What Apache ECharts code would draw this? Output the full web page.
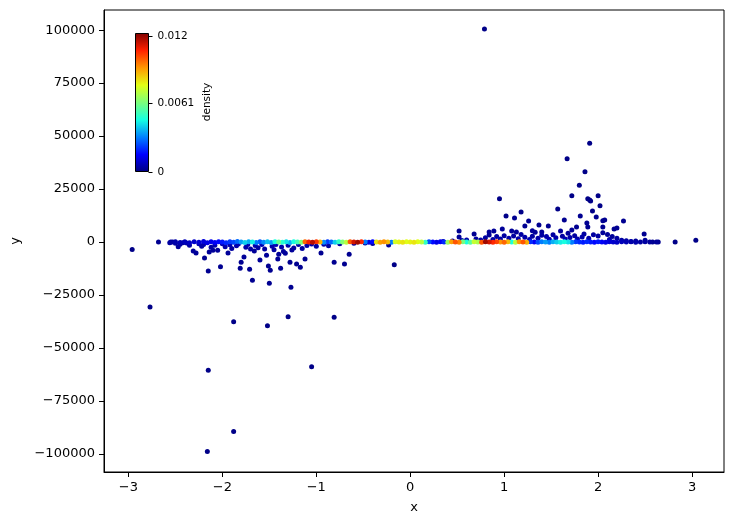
<!DOCTYPE html>
<html><head><meta charset="utf-8">
<script src="https://cdn.jsdelivr.net/npm/echarts@6/dist/echarts.min.js"></script>
<style>html,body{margin:0;padding:0;background:#fff}#c{width:734px;height:525px}</style>
</head><body><div id="c"></div><script>
const xTicks=[-3,-2,-1,0,1,2,3];
const yTicks=[-100000,-75000,-50000,-25000,0,25000,50000,75000,100000];
const densityTicks=[0,0.0061,0.012];
const densityTickLabels=['0','0.0061','0.012'];
const densityMax=0.0122;
const jetColors=['#000080','#0000ff','#0080ff','#15ffe2','#7bff7b','#e2ff15','#ff9700','#ff2100','#800000'];

// [x, y, density] along the dense band near y = 0
const bandPoints=[
[-2.55,0,0.0004],[-2.50,200,0.0005],[-2.45,-200,0.0006],[-2.40,100,0.0007],[-2.35,-300,0.0008],
[-2.30,200,0.0009],[-2.25,-100,0.0010],[-2.20,300,0.0011],[-2.16,-300,0.0012],[-2.12,100,0.0013],
[-2.08,-200,0.0014],[-2.04,200,0.0016],[-2.00,0,0.0018],[-1.96,-300,0.0020],[-1.92,200,0.0022],
[-1.88,-100,0.0024],[-1.84,300,0.0028],[-1.80,0,0.0034],[-1.76,-200,0.0040],[-1.72,200,0.0036],
[-1.68,0,0.0044],[-1.64,-200,0.0030],[-1.60,100,0.0026],[-1.56,-100,0.0032],[-1.52,200,0.0038],
[-1.48,-200,0.0034],[-1.44,100,0.0046],[-1.40,0,0.0058],[-1.36,-100,0.0048],[-1.32,200,0.0042],
[-1.28,-200,0.0036],[-1.24,100,0.0046],[-1.20,0,0.0052],[-1.16,-100,0.0062],[-1.12,100,0.0098],
[-1.08,0,0.0108],[-1.04,-100,0.0115],[-1.00,100,0.0104],[-0.96,0,0.0088],[-0.92,-100,0.0032],
[-0.88,100,0.0022],[-0.84,0,0.0028],[-0.80,-100,0.0040],[-0.76,100,0.0050],[-0.72,0,0.0062],
[-0.68,-100,0.0070],[-0.64,100,0.0100],[-0.60,0,0.0112],[-0.56,-100,0.0118],[-0.52,100,0.0106],
[-0.48,0,0.0030],[-0.44,-100,0.0012],[-0.40,100,0.0016],[-0.36,0,0.0080],[-0.32,-100,0.0090],
[-0.28,100,0.0092],[-0.24,0,0.0086],[-0.20,-100,0.0030],[-0.16,100,0.0074],[-0.12,0,0.0078],
[-0.08,-100,0.0080],[-0.04,100,0.0076],[0.00,0,0.0078],[0.04,-100,0.0080],[0.08,100,0.0076],
[0.12,0,0.0070],[0.16,-100,0.0050],[0.20,100,0.0024],[0.24,0,0.0016],[0.28,-100,0.0012],
[0.32,100,0.0014],[0.36,0,0.0020],[0.40,-100,0.0066],[0.44,100,0.0090],[0.48,0,0.0100],
[0.52,-100,0.0094],[0.56,100,0.0060],[0.60,0,0.0046],[0.64,-100,0.0056],[0.68,100,0.0072],
[0.72,0,0.0068],[0.76,-100,0.0100],[0.80,100,0.0118],[0.84,0,0.0112],[0.88,-100,0.0106],
[0.92,100,0.0102],[0.96,0,0.0092],[1.00,-100,0.0098],[1.04,100,0.0086],[1.08,0,0.0046],
[1.12,-100,0.0070],[1.16,100,0.0092],[1.20,0,0.0100],[1.24,-100,0.0088],[1.28,100,0.0020],
[1.32,0,0.0014],[1.36,-100,0.0024],[1.40,100,0.0030],[1.44,0,0.0034],[1.48,-100,0.0030],
[1.52,100,0.0036],[1.56,0,0.0040],[1.60,-100,0.0044],[1.64,100,0.0046],[1.68,0,0.0042],
[1.72,-100,0.0030],[1.76,100,0.0022],[1.80,0,0.0020],[1.84,-100,0.0018],[1.88,100,0.0020],
[1.92,0,0.0018],[1.96,-100,0.0016],[2.00,100,0.0018],[2.04,0,0.0014],[2.08,-100,0.0012],
[2.12,100,0.0010],[2.16,0,0.0009],[2.20,-100,0.0008],[2.25,100,0.0007],[2.30,0,0.0006],
[2.35,100,0.0005],[2.40,-100,0.0005],[2.45,0,0.0004],[2.50,100,0.0004],[2.55,0,0.0003],[2.62,0,0.0003]
];

// [x, y, density] sparse points below the band (negative x)
const leftTailPoints=[
[-2.96,-3500,0.0001],[-2.77,-30600,0.0001],[-2.68,0,0.0002],[-2.16,-98800,0.0001],[-2.15,-60500,0.0001],
[-1.88,-89400,0.0001],[-1.88,-37600,0.0001],[-1.52,-39500,0.0001],[-1.30,-35300,0.0001],[-1.05,-58800,0.0001],
[-0.81,-35500,0.0001],[-0.17,-10700,0.0001],
[-2.53,0,0.0003],[-2.47,-2200,0.0003],[-2.42,-300,0.0004],[-2.31,-4200,0.0003],[-2.28,-5200,0.0003],
[-2.19,-7500,0.0002],[-2.15,-13600,0.0002],[-2.14,-4700,0.0003],[-2.10,-3900,0.0003],[-2.05,-3900,0.0003],
[-2.02,-11700,0.0002],[-1.94,-5200,0.0003],[-1.81,-12400,0.0002],[-1.80,-9500,0.0002],[-1.77,-7000,0.0003],
[-1.71,-12800,0.0002],[-1.68,-18000,0.0002],[-1.66,-4200,0.0003],[-1.60,-8500,0.0003],[-1.53,-6200,0.0003],
[-1.51,-11300,0.0002],[-1.50,-19400,0.0002],[-1.49,-13300,0.0002],[-1.41,-8000,0.0003],[-1.40,-5800,0.0003],
[-1.38,-12300,0.0002],[-1.35,-4500,0.0003],[-1.33,-5300,0.0003],[-1.28,-9500,0.0002],[-1.27,-21300,0.0002],
[-1.26,-3700,0.0003],[-1.21,-10400,0.0002],[-1.17,-11900,0.0002],[-1.12,-8000,0.0002],[-0.95,-5200,0.0002],
[-0.81,-9500,0.0002],[-0.70,-10400,0.0002],[-0.65,-5700,0.0002],[-0.23,-1400,0.0003],
[-2.56,-300,0.0004],[-2.50,-600,0.0004],[-2.45,-1000,0.0004],[-2.38,-400,0.0005],[-2.35,-1500,0.0004],
[-2.25,-800,0.0005],[-2.22,-2000,0.0004],[-2.20,-1200,0.0005],[-2.12,-2500,0.0004],[-2.08,-1500,0.0005],
[-2.00,-800,0.0006],[-1.97,-2200,0.0005],[-1.92,-1300,0.0006],[-1.90,-3000,0.0004],[-1.85,-1800,0.0005],
[-1.83,-900,0.0006],[-1.75,-2400,0.0005],[-1.73,-1200,0.0006],[-1.70,-3300,0.0004],[-1.65,-1600,0.0005],
[-1.62,-2700,0.0004],[-1.58,-1100,0.0006],[-1.55,-3300,0.0004],[-1.47,-2000,0.0005],[-1.45,-3600,0.0004],
[-1.43,-1200,0.0006],[-1.37,-2300,0.0005],[-1.30,-1500,0.0005],[-1.24,-2800,0.0004],[-1.19,-1200,0.0005],
[-1.15,-3000,0.0004],[-1.10,-1600,0.0005],[-1.05,-900,0.0005],[-1.00,-2000,0.0004],[-0.92,-1000,0.0005],
[-0.87,-1700,0.0004],[-0.75,-800,0.0004],[-0.60,-600,0.0004],[-0.48,-400,0.0004],[-0.40,-700,0.0004]
];

// [x, y, density] sparse points above the band (positive x)
const rightTailPoints=[
[0.79,100500,0.0001],[0.95,20400,0.0001],[1.67,39300,0.0001],[1.91,46600,0.0001],[1.86,33200,0.0001],
[1.80,26800,0.0001],[1.72,21800,0.0001],[2.00,21800,0.0001],[1.89,20400,0.0001],[1.92,19400,0.0001],
[1.91,19900,0.0001],[2.02,17100,0.0001],[1.94,14700,0.0001],[1.57,15600,0.0001],[1.18,14200,0.0001],
[1.02,12300,0.0001],[1.11,11400,0.0002],[1.64,10400,0.0002],[1.81,12300,0.0002],[1.98,11800,0.0002],
[2.07,10400,0.0002],[2.05,10000,0.0002],[2.27,9900,0.0002],[1.26,9900,0.0002],[1.88,9000,0.0002],
[1.37,8100,0.0002],[1.47,7600,0.0002],[1.22,7600,0.0002],[1.89,7100,0.0002],[2.05,7100,0.0002],
[1.77,7100,0.0002],[1.72,5700,0.0003],[0.84,4700,0.0003],[0.84,3300,0.0003],[0.52,5200,0.0002],
[0.89,5200,0.0003],[0.98,6200,0.0003],[1.08,5200,0.0003],[1.13,4700,0.0003],[1.30,5300,0.0003],
[1.33,4600,0.0003],[1.40,4800,0.0003],[1.60,5200,0.0003],[1.68,4200,0.0003],[2.17,6200,0.0002],
[2.20,6600,0.0002],[2.49,3800,0.0002],[0.68,3800,0.0002],[0.52,2400,0.0003],[3.04,900,0.0001],
[2.82,0,0.0001],[2.58,0,0.0002],[2.64,0,0.0002],[2.50,800,0.0003],[2.40,500,0.0003],
[2.35,300,0.0004],[2.30,600,0.0004],[2.25,900,0.0004],[2.20,1800,0.0004],[2.15,2600,0.0003],
[2.10,3600,0.0003],[2.05,4400,0.0003],[2.12,1200,0.0005],[2.00,2900,0.0004],[1.95,3400,0.0004],
[1.90,1800,0.0005],[1.85,3800,0.0004],[1.83,2400,0.0005],[1.78,1500,0.0005],[1.75,3000,0.0004],
[1.70,2200,0.0005],[1.65,1400,0.0006],[1.62,2700,0.0004],[1.55,2000,0.0005],[1.52,3500,0.0004],
[1.48,1300,0.0006],[1.45,2600,0.0005],[1.40,3200,0.0004],[1.36,1800,0.0005],[1.30,2800,0.0004],
[1.27,1200,0.0006],[1.22,2300,0.0005],[1.18,3600,0.0004],[1.15,1600,0.0005],[1.10,2900,0.0004],
[1.05,1800,0.0005],[1.00,3000,0.0004],[0.96,1500,0.0005],[0.92,2600,0.0004],[0.88,1200,0.0005],
[0.80,2000,0.0004],[0.75,1000,0.0005],[0.70,1500,0.0004],[0.60,1000,0.0005],[0.55,700,0.0005],
[0.45,500,0.0005],[0.35,300,0.0006]
];

const allPoints=bandPoints.concat(leftTailPoints,rightTailPoints).slice().sort((a,b)=>a[2]-b[2]);

const FONT='DejaVu Sans';
const minus=v=>(v<0?'\u2212'+String(-v):String(v));

const chart=echarts.init(document.getElementById('c'),null,{renderer:'canvas'});

// colorbar geometry (decoration)
const cb={x:135.5,y:33.5,w:13,h:138};
const cbStops=jetColors.map((c,i)=>({offset:i/(jetColors.length-1),color:c}));
const graphics=[
 {type:'rect',shape:{x:cb.x,y:cb.y,width:cb.w,height:cb.h},
  style:{fill:new echarts.graphic.LinearGradient(0,1,0,0,cbStops),stroke:'#000',lineWidth:1},z:100}
];
densityTicks.forEach((d,i)=>{
  const yy=Math.round(cb.y+cb.h-d/densityMax*cb.h)+0.5;
  graphics.push({type:'line',shape:{x1:cb.x+cb.w,y1:yy,x2:cb.x+cb.w+4,y2:yy},style:{stroke:'#000',lineWidth:1},z:100});
  graphics.push({type:'text',x:cb.x+cb.w+9,y:yy,style:{text:densityTickLabels[i],font:'10.5px "DejaVu Sans"',fill:'#000',textVerticalAlign:'middle',textAlign:'left'},z:100});
});
graphics.push({type:'text',x:207,y:102,rotation:Math.PI/2,style:{text:'density',font:'10.5px "DejaVu Sans"',fill:'#000',textAlign:'center',textVerticalAlign:'middle'},z:100});

chart.setOption({
  animation:false,
  backgroundColor:'#fff',
  grid:{left:104,right:10,top:10,bottom:53,outerBoundsMode:'none',containLabel:false,show:true,borderColor:'#000',borderWidth:1,backgroundColor:'transparent'},
  xAxis:{type:'value',min:-3.26,max:3.34,
    name:'x',nameLocation:'middle',nameGap:29,nameTextStyle:{fontFamily:FONT,fontSize:13,color:'#000'},
    axisLine:{show:true,onZero:false,lineStyle:{color:'#000',width:1}},
    axisTick:{show:true,inside:false,length:5,customValues:xTicks,lineStyle:{color:'#000'}},
    axisLabel:{customValues:xTicks,formatter:minus,fontFamily:FONT,fontSize:13,color:'#000',margin:9},
    splitLine:{show:false}},
  yAxis:{type:'value',min:-108500,max:109500,
    name:'y',nameLocation:'middle',nameGap:82,nameTextStyle:{fontFamily:FONT,fontSize:13,color:'#000'},
    axisLine:{show:true,onZero:false,lineStyle:{color:'#000',width:1}},
    axisTick:{show:true,inside:false,length:5,customValues:yTicks,lineStyle:{color:'#000'}},
    axisLabel:{customValues:yTicks,formatter:minus,fontFamily:FONT,fontSize:13,color:'#000',margin:9},
    splitLine:{show:false}},
  visualMap:{show:false,type:'continuous',dimension:2,min:0,max:densityMax,seriesIndex:0,inRange:{color:jetColors}},
  series:[{type:'scatter',symbol:'circle',symbolSize:5,data:allPoints,itemStyle:{opacity:1},large:false}],
  graphic:graphics
});
</script></body></html>
